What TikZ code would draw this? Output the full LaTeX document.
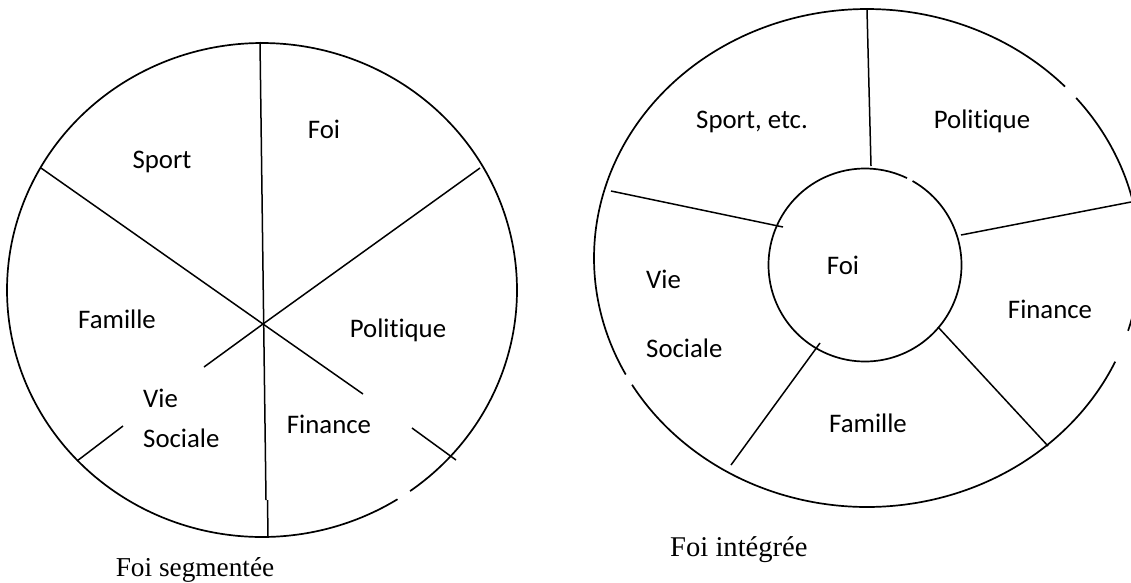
\documentclass[tikz,border=0pt]{standalone}
\usepackage{fontspec}
\setmainfont{Liberation Serif}
\newfontfamily\labelfont[Ligatures=NoCommon]{Carlito}
\begin{document}
\begin{tikzpicture}[x=1pt,y=-1pt,
  rim/.style={line width=1.7pt,black},
  spoke/.style={line width=1.5pt,black},
  lab/.style={inner sep=0pt,font=\labelfont\fontsize{26.8}{32}\selectfont},
  captext/.style={inner sep=0pt}]
\useasboundingbox (0,0) rectangle (1131,582);
\clip (0,0) rectangle (1131,582);
% ---------- left: Foi segmentee ----------
\draw[rim] plot[domain=57.9:414.5,samples=240,smooth] ({262+255*cos(\x)},{290+247*sin(\x)});
\coordinate (C) at (263,324);
\coordinate (Ltop) at (260,42);
\coordinate (Lk1) at (266,500);
\coordinate (Lk2) at (267.5,500);
\coordinate (Lbot) at (268,537);
\coordinate (UL) at (41,168);
\coordinate (LR1) at (363,394);
\coordinate (LR2) at (412,428);
\coordinate (LR3) at (456,460);
\coordinate (UR) at (480,168);
\coordinate (LL1) at (204,367);
\coordinate (LL2) at (123,426);
\coordinate (LL3) at (77,461);
\draw[spoke] (Ltop) -- (Lk1);
\draw[spoke] (Lk2) -- (Lbot);
\draw[spoke] (UL) -- (C) -- (LR1);
\draw[spoke] (LR2) -- (LR3);
\draw[spoke] (UR) -- (C) -- (LL1);
\draw[spoke] (LL2) -- (LL3);
\node[lab,anchor=base] (lsport) at (162,168) {Sport};
\node[lab,anchor=base] (lfoi) at (324,138) {Foi};
\node[lab,anchor=base] (lfam) at (117,328) {Famille};
\node[lab,anchor=base] (lpol) at (398,337) {Politique};
\node[lab,anchor=base west] (lvie) at (143,407) {Vie};
\node[lab,anchor=base west] (lsoc) at (143,447) {Sociale};
\node[lab,anchor=base] (lfin) at (329,433) {Finance};
\node[captext,anchor=base,font=\fontsize{27.3}{32}\selectfont] (lcap) at (195,576) {Foi segmentée};
% ---------- right: Foi integree ----------
\draw[rim] plot[domain=-40:17,samples=80,smooth] ({867+273*cos(\x)},{258+249*sin(\x)});
\draw[rim] plot[domain=24.6:149.4,samples=140,smooth] ({867+273*cos(\x)},{258+249*sin(\x)});
\draw[rim] plot[domain=152.1:316.5,samples=180,smooth] ({867+273*cos(\x)},{258+249*sin(\x)});
\draw[rim] plot[domain=-60.5:295.8,samples=200,smooth] ({865+96.5*cos(\x)},{265+96.5*sin(\x)});
\coordinate (Rtop) at (867,10);
\coordinate (Rtopin) at (871,166);
\coordinate (RSa) at (611,191);
\coordinate (RSb) at (783,227);
\coordinate (RPa) at (961,235);
\coordinate (RPb) at (1131,202);
\coordinate (RFa) at (938,327);
\coordinate (RFb) at (1048,446);
\coordinate (RVa) at (820,343);
\coordinate (RVb) at (731,465);
\draw[spoke] (Rtop) -- (Rtopin);
\draw[spoke] (RSa) -- (RSb);
\draw[spoke] (RPa) -- (RPb);
\draw[spoke] (RFa) -- (RFb);
\draw[spoke] (RVa) -- (RVb);
\node[lab,anchor=base] (rsport) at (752,128) {Sport, etc.};
\node[lab,anchor=base] (rpol) at (982,128) {Politique};
\node[lab,anchor=base] (rfoi) at (843,274) {Foi};
\node[lab,anchor=base west] (rvie) at (646,288) {Vie};
\node[lab,anchor=base west] (rsoc) at (646,357) {Sociale};
\node[lab,anchor=base] (rfin) at (1050,318) {Finance};
\node[lab,anchor=base] (rfam) at (868,432) {Famille};
\node[captext,anchor=base west,font=\fontsize{28.6}{33}\selectfont] (rcap) at (670,556) {Foi intégrée};
\end{tikzpicture}
\end{document}
